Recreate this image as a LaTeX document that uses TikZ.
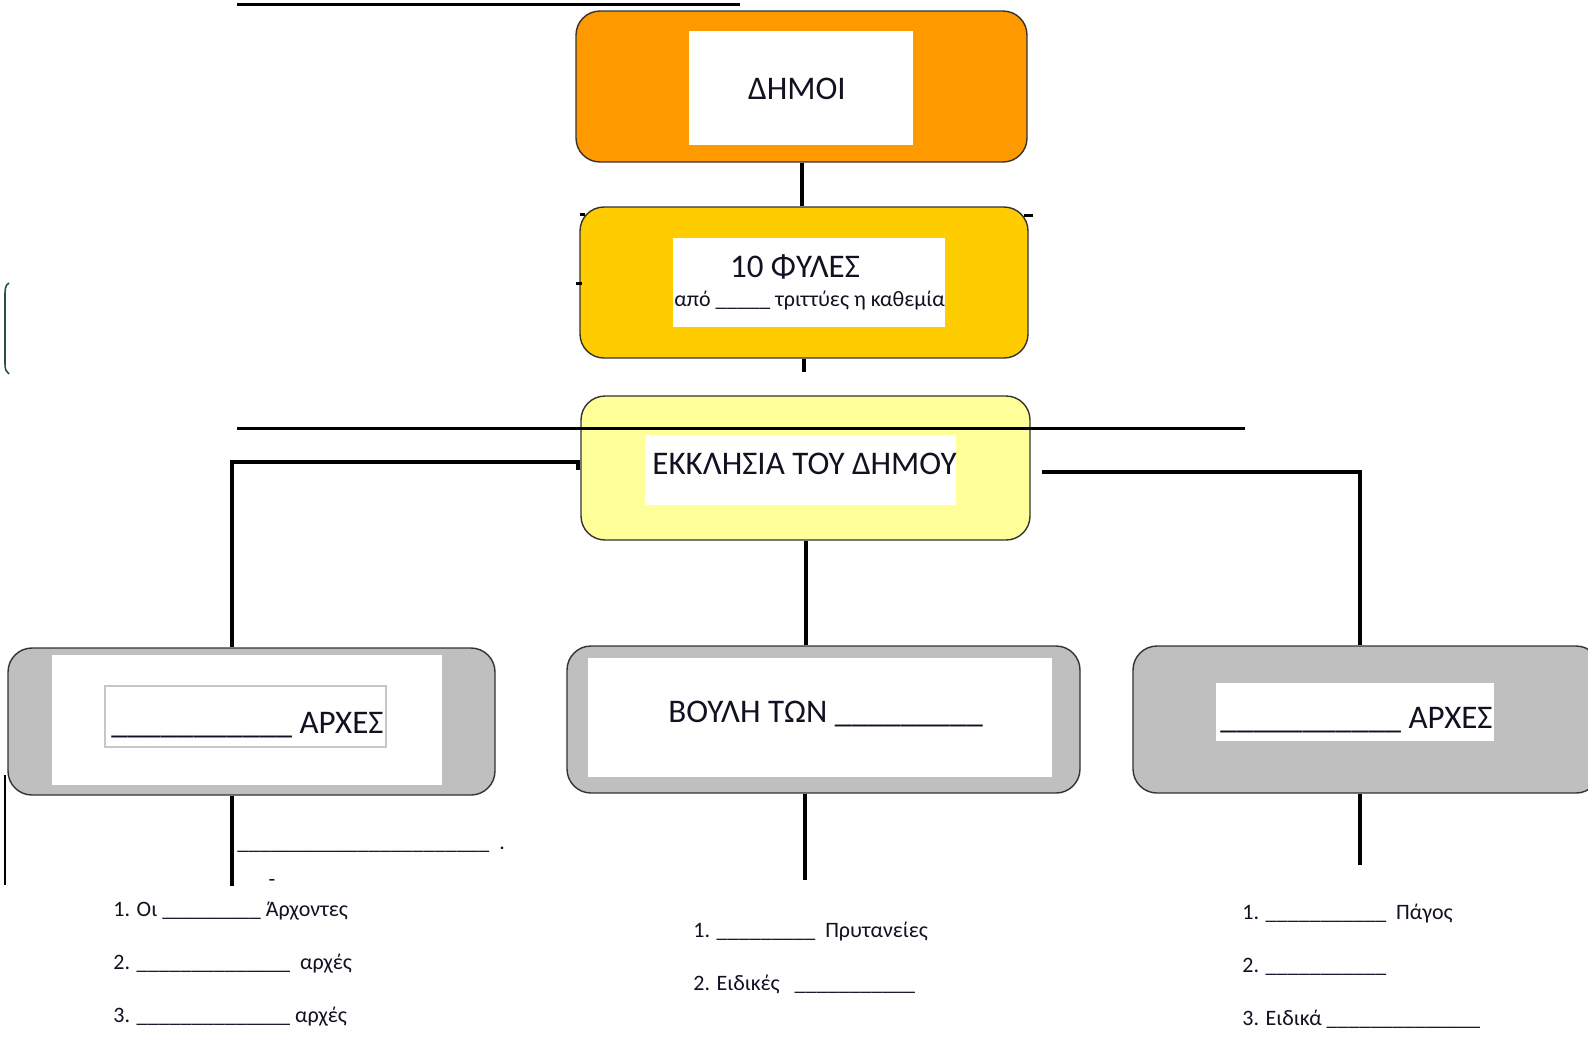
\documentclass[tikz,border=0pt]{standalone}
\usepackage{fontspec}
\setmainfont{Carlito}
\definecolor{orangeC}{HTML}{FF9900}
\definecolor{fylesC}{HTML}{FFCC00}
\definecolor{ekkC}{HTML}{FFFF99}
\definecolor{grayC}{HTML}{BFBFBF}
\definecolor{edgeC}{HTML}{333333}
\definecolor{slateC}{HTML}{2F4F4F}
\definecolor{inkC}{HTML}{111122}
\newcommand\blanks[1]{\count255=0 \loop\ifnum\count255<#1 \_\advance\count255 by 1 \repeat}
\begin{document}
\begin{tikzpicture}[x=0.5pt,y=-0.5pt,
  box/.style={draw=edgeC, line width=0.7pt, rounded corners=12pt, inner sep=0pt},
  whitebox/.style={fill=white, draw=none, inner sep=0pt},
  conn/.style={line width=2pt, draw=black},
  thinline/.style={line width=1.5pt, draw=black},
  big/.style={font=\fontsize{16.5}{20}\selectfont, inner sep=0pt, text=inkC},
  small/.style={font=\fontsize{11}{13}\selectfont, inner sep=0pt, text=inkC}]
\useasboundingbox (0,0) rectangle (1588,1041);
\fill[white] (0,0) rectangle (1588,1041);

% top underline of cut-off heading
\coordinate (t1) at (237,4.5);
\coordinate (t2) at (740,4.5);
\draw[thinline] (t1) -- (t2);

% ΔΗΜΟΙ
\node[box, fill=orangeC, minimum width=225.5pt, minimum height=75.5pt] (dimoi) at (801.5,86.5) {};
\node[whitebox, minimum width=112pt, minimum height=57pt] (dimoiw) at (801,88) {};
\node[big, anchor=base] (dimoit) at (797,99) {ΔΗΜΟΙ};

% ΦΥΛΕΣ
\node[box, fill=fylesC, minimum width=224pt, minimum height=75.5pt] (fyles) at (804,282.5) {};
\node[whitebox, minimum width=136pt, minimum height=44.5pt] (fylesw) at (809,282.5) {};
\node[big, anchor=base] (fylest) at (795,277) {10 ΦΥΛΕΣ};
\node[small, anchor=base west] (fylessub) at (674,306) {από \blanks{5} τριττύες η καθεμία};

% ΕΚΚΛΗΣΙΑ
\node[box, fill=ekkC, minimum width=224.5pt, minimum height=72pt] (ekk) at (805.5,468) {};
\node[whitebox, minimum width=155.5pt, minimum height=35pt] (ekkw) at (800.5,470) {};
\node[big, anchor=base] (ekkt) at (804.5,474) {ΕΚΚΛΗΣΙΑ ΤΟΥ ΔΗΜΟΥ};

% left ΑΡΧΕΣ
\node[box, fill=grayC, minimum width=243.5pt, minimum height=73.5pt] (lbox) at (251.5,721.5) {};
\node[whitebox, minimum width=195pt, minimum height=65pt] (lboxw) at (247,720) {};
\node[draw=black!22, line width=0.8pt, fill=white, inner sep=0pt, minimum width=140.5pt, minimum height=30.5pt] (lframe) at (245.5,716.5) {};
\node[big, anchor=base east] (lboxt) at (384,733) {\blanks{11} ΑΡΧΕΣ};

% ΒΟΥΛΗ
\node[box, fill=grayC, minimum width=256.5pt, minimum height=73.5pt] (vbox) at (823.5,719.5) {};
\node[whitebox, minimum width=232pt, minimum height=59.5pt] (vboxw) at (820,717.5) {};
\node[big, anchor=base west] (vboxt) at (668,722) {ΒΟΥΛΗ ΤΩΝ \blanks{9}};

% right ΑΡΧΕΣ
\node[box, fill=grayC, minimum width=233.5pt, minimum height=73.5pt] (rbox) at (1366.5,719.5) {};
\node[whitebox, minimum width=139pt, minimum height=29pt] (rboxw) at (1355,712) {};
\node[big, anchor=base east] (rboxt) at (1493,728) {\blanks{11} ΑΡΧΕΣ};

% connectors
\draw[conn] (dimoi.south) -- (dimoi.south |- fyles.north);
\coordinate (fstub) at (804,372);
\draw[conn] (fyles.south -| fstub) -- (fstub);
\coordinate (hl1) at (237,428);
\coordinate (hl2) at (1245,428);
\draw[thinline] (hl1) -- (hl2);
\coordinate (lj) at (578,462);
\coordinate (lk) at (232,462);
\draw[conn] (ekk.west) -| (lj) -- (lk) -- (lk |- lbox.north);
\draw[conn] (ekk.south) -- (ekk.south |- vbox.north);
\coordinate (rs) at (1042,472);
\coordinate (rk) at (1360,472);
\draw[conn] (rs) -- (rk) -- (rk |- rbox.north);
\coordinate (le) at (232,886);
\draw[conn] (lbox.south -| le) -- (le);
\coordinate (me) at (805,880);
\draw[conn] (vbox.south -| me) -- (me);
\coordinate (re) at (1360,865);
\draw[conn] (rbox.south -| re) -- (re);

% small stray marks
\coordinate (k1) at (1024,215);
\coordinate (k2) at (1033,215);
\draw[thinline] (k1) -- (k2);
\coordinate (k3) at (576,283);
\coordinate (k4) at (582,283);
\draw[thinline] (k3) -- (k4);
\coordinate (k5) at (580,214);
\coordinate (k6) at (585,214);
\draw[thinline] (k5) -- (k6);
\draw[line width=0.8pt, draw=slateC] (9,283) .. controls (5,285) and (5,290) .. (5,296) -- (5,364) .. controls (5,369) and (6,372) .. (9,374);
\coordinate (e1) at (5,775);
\coordinate (e2) at (5,885);
\draw[line width=0.8pt] (e1) -- (e2);

% texts below
\node[small, anchor=base west] (lline) at (237,849) {\blanks{23}\ \ .};
\node[small, anchor=base] (ldash) at (272,886) {-};
\node[small, anchor=base west] (l1) at (113,916) {1. Οι \blanks{9}\ Άρχοντες};
\node[small, anchor=base west] (l2) at (113,969) {2. \blanks{14}\ \ αρχές};
\node[small, anchor=base west] (l3) at (113,1022) {3. \blanks{14} αρχές};
\node[small, anchor=base west] (m1) at (693,937) {1. \blanks{9}\ \ Πρυτανείες};
\node[small, anchor=base west] (m2) at (693,990) {2. Ειδικές\ \ \ \blanks{11}};
\node[small, anchor=base west] (r1) at (1242,919) {1. \blanks{11}\ \ Πάγος};
\node[small, anchor=base west] (r2) at (1242,972) {2. \blanks{11}};
\node[small, anchor=base west] (r3) at (1242,1025) {3. Ειδικά \blanks{14}};
\end{tikzpicture}
\end{document}
